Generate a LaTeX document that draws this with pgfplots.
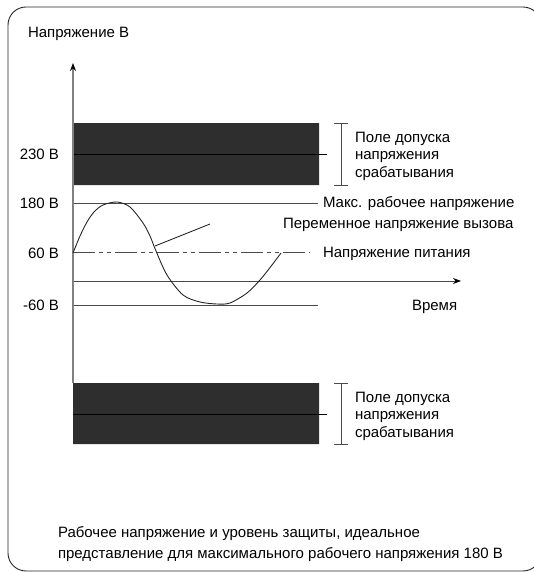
\documentclass[border=0pt]{standalone}
\usepackage{fontspec}
\setmainfont{Liberation Sans}
\usepackage{pgfplots}
\pgfplotsset{compat=1.18}
\usetikzlibrary{arrows.meta}
\definecolor{band}{HTML}{2E2E2E}
\definecolor{ln}{HTML}{4A4A4A}
\definecolor{vax}{HTML}{808080}
\tikzset{lbl/.style={inner sep=0pt, outer sep=0pt, font=\fontsize{15bp}{18bp}\selectfont}}
\begin{document}
\fontsize{15bp}{18bp}\selectfont
\begin{tikzpicture}
\useasboundingbox (0,0) rectangle (534bp,572bp);
\begin{scope}
\clip (0,0) rectangle (534bp,572bp);
\draw[line width=0.9bp, black!85, rounded corners=18bp] (8bp,1bp) rectangle (541bp,565bp);
\end{scope}
\begin{axis}[
  width=534bp, height=572bp, scale only axis,
  xmin=0, xmax=534, ymin=0, ymax=572, y dir=reverse,
  hide axis, clip=false,
]
% bands
\addplot[fill=band, draw=none] coordinates {(73,123) (319,123) (319,185) (73,185) (73,123)};
\addplot[fill=band, draw=none] coordinates {(73,383) (319,383) (319,444) (73,444) (73,383)};
% lines in bands
\addplot[black, line width=0.8bp] coordinates {(73,154) (327,154)};
\addplot[black, line width=0.8bp] coordinates {(73,414) (327,414)};
% brackets
\addplot[ln, line width=0.9bp] coordinates {(341,123) (341,185)};
\addplot[ln, line width=0.9bp] coordinates {(334,123) (348,123)};
\addplot[ln, line width=0.9bp] coordinates {(334,185) (348,185)};
\addplot[ln, line width=0.9bp] coordinates {(341,383) (341,444)};
\addplot[ln, line width=0.9bp] coordinates {(334,383) (348,383)};
\addplot[ln, line width=0.9bp] coordinates {(334,444) (348,444)};
% horizontal lines
\addplot[ln, line width=0.9bp] coordinates {(73,203) (318,203)};
\addplot[ln, line width=0.9bp] coordinates {(73,305) (318,305)};
\addplot[ln, line width=0.9bp, dash pattern=on 22bp off 4bp on 4bp off 4bp on 4bp off 4bp] coordinates {(73,252) (310,252)};
\addplot[ln, line width=0.9bp, -{Stealth[black, length=8bp, width=6bp]}] coordinates {(73,281) (461,281)};
% vertical axis
\addplot[vax, line width=1.3bp, -{Stealth[black, length=8bp, width=6bp]}] coordinates {(73,383) (73,63)};
% ringing voltage curve
\addplot[black!85, line width=0.9bp, smooth, tension=0.5] coordinates {
(73,253) (80,236) (87,222) (94,212) (103,205) (117,202) (130,207) (143,223) (150,236) (156,251)
(167,275) (183,295) (200,302) (217,304) (230,303) (247,293) (260,280) (272,265) (281,253)};
% pointer
\addplot[black!85, line width=0.9bp] coordinates {(155,246) (210,224)};
% texts
\node[lbl, anchor=base west] at (axis cs:28,38) {Напряжение В};
\node[lbl, anchor=base east] at (axis cs:59,159) {230 В};
\node[lbl, anchor=base east] at (axis cs:59,208) {180 В};
\node[lbl, anchor=base east] at (axis cs:59,258) {60 В};
\node[lbl, anchor=base east] at (axis cs:59,310) {-60 В};
\node[lbl, anchor=base west] at (axis cs:355,142) {Поле допуска};
\node[lbl, anchor=base west] at (axis cs:355,159.5) {напряжения};
\node[lbl, anchor=base west] at (axis cs:355,177) {срабатывания};
\node[lbl, anchor=base west] at (axis cs:355,402) {Поле допуска};
\node[lbl, anchor=base west] at (axis cs:355,419.5) {напряжения};
\node[lbl, anchor=base west] at (axis cs:355,437) {срабатывания};
\node[lbl, anchor=base west] at (axis cs:323,207) {Макс. рабочее напряжение};
\node[lbl, anchor=base west] at (axis cs:283,228) {Переменное напряжение вызова};
\node[lbl, anchor=base west] at (axis cs:323,257) {Напряжение питания};
\node[lbl, anchor=base west] at (axis cs:412,310) {Время};
\node[lbl, anchor=base west] at (axis cs:58,537) {Рабочее напряжение и уровень защиты, идеальное};
\node[lbl, anchor=base west] at (axis cs:58,558) {представление для максимального рабочего напряжения 180 В};
\end{axis}
\end{tikzpicture}
\end{document}
